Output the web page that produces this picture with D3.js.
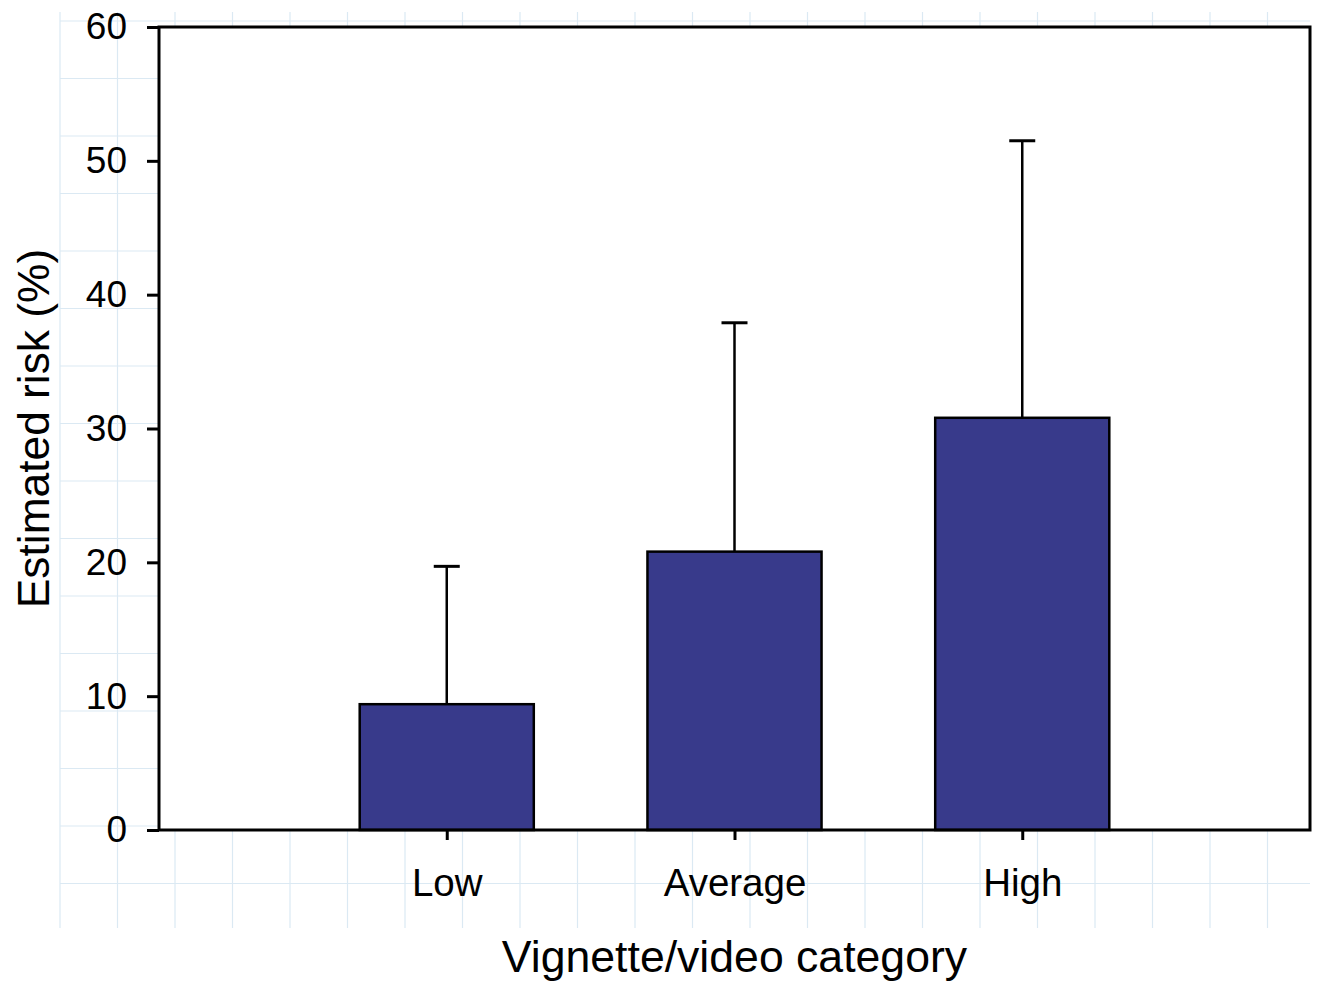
<!DOCTYPE html>
<html>
<head>
<meta charset="utf-8">
<script src="https://cdn.jsdelivr.net/npm/d3@7"></script>
<style>
  html, body { margin: 0; padding: 0; background: #fff; }
  svg { display: block; font-family: "Liberation Sans", Arial, Helvetica, sans-serif; }
</style>
</head>
<body>
<svg id="chart" width="1320" height="986"></svg>
<script>
// ---- data ----
const categories = ["Low", "Average", "High"];
const meanRisk = [9.4, 20.8, 30.8];
const errorRisk = [10.3, 17.1, 20.7];
const yTicks = [0, 10, 20, 30, 40, 50, 60];
const xTitle = "Vignette/video category";
const yTitle = "Estimated risk (%)";

// ---- layout ----
const W = 1320, H = 986;
const plot = { left: 159, right: 1310, top: 27, bottom: 830 };
const svg = d3.select("#chart");

// background graph-paper grid (decorative)
const gridStep = 57.5;
const gx0 = 60, gy0 = 21;
const bg = svg.append("g").attr("stroke", "#dbe9f3").attr("stroke-width", 1.2);
d3.range(0, 22).forEach(i => {
  const x = gx0 + i * gridStep;
  bg.append("line").attr("x1", x).attr("x2", x).attr("y1", 12).attr("y2", 928);
});
d3.range(0, 16).forEach(j => {
  const y = gy0 + j * gridStep;
  bg.append("line").attr("x1", gx0).attr("x2", 1310).attr("y1", y).attr("y2", y);
});

// scales
const x = d3.scalePoint().domain(categories).range([plot.left, plot.right]).padding(1);
const y = d3.scaleLinear().domain([0, 60]).range([plot.bottom, plot.top]);
const barW = x.step() * 0.605;

// plot background
svg.append("rect")
  .attr("x", plot.left).attr("y", plot.top)
  .attr("width", plot.right - plot.left).attr("height", plot.bottom - plot.top)
  .attr("fill", "#fff");

const data = categories.map((c, i) => ({ c, m: meanRisk[i], e: errorRisk[i] }));

// error bars
const eb = svg.append("g").attr("stroke", "#000").attr("stroke-width", 2.5);
eb.selectAll(".v").data(data).join("line")
  .attr("x1", d => x(d.c)).attr("x2", d => x(d.c))
  .attr("y1", d => y(d.m)).attr("y2", d => y(d.m + d.e));
eb.selectAll(".cap").data(data).join("line")
  .attr("x1", d => x(d.c) - 13).attr("x2", d => x(d.c) + 13)
  .attr("y1", d => y(d.m + d.e)).attr("y2", d => y(d.m + d.e))
  .attr("stroke-width", 3);

// bars
svg.append("g").selectAll("rect").data(data).join("rect")
  .attr("x", d => x(d.c) - barW / 2)
  .attr("width", barW)
  .attr("y", d => y(d.m))
  .attr("height", d => y(0) - y(d.m))
  .attr("fill", "#383a8b")
  .attr("stroke", "#000").attr("stroke-width", 2.5);

// y axis
const yAxis = svg.append("g").attr("transform", `translate(${plot.left},0)`)
  .call(d3.axisLeft(y).tickValues(yTicks).tickSize(12).tickPadding(20).tickFormat(d3.format("d")));
yAxis.select(".domain").remove();
yAxis.selectAll(".tick line").attr("stroke", "#000").attr("stroke-width", 3);
yAxis.selectAll(".tick text").attr("font-size", 37).attr("fill", "#000")
  .attr("font-family", "'Liberation Sans', Arial, sans-serif");

// x axis
const xAxis = svg.append("g").attr("transform", `translate(0,${plot.bottom})`)
  .call(d3.axisBottom(x).tickSize(10).tickPadding(29));
xAxis.select(".domain").remove();
xAxis.selectAll(".tick line").attr("stroke", "#000").attr("stroke-width", 3);
xAxis.selectAll(".tick text").attr("font-size", 38.5).attr("fill", "#000")
  .attr("font-family", "'Liberation Sans', Arial, sans-serif");

// frame
svg.append("rect")
  .attr("x", plot.left).attr("y", plot.top)
  .attr("width", plot.right - plot.left).attr("height", plot.bottom - plot.top)
  .attr("fill", "none").attr("stroke", "#000").attr("stroke-width", 3);

// titles
svg.append("text")
  .attr("x", (plot.left + plot.right) / 2).attr("y", 972)
  .attr("text-anchor", "middle").attr("font-size", 44.6).attr("fill", "#000")
  .text(xTitle);
svg.append("text")
  .attr("transform", `translate(49,${(plot.top + plot.bottom) / 2}) rotate(-90)`)
  .attr("text-anchor", "middle").attr("font-size", 44.3).attr("fill", "#000")
  .text(yTitle);
</script>
</body>
</html>
